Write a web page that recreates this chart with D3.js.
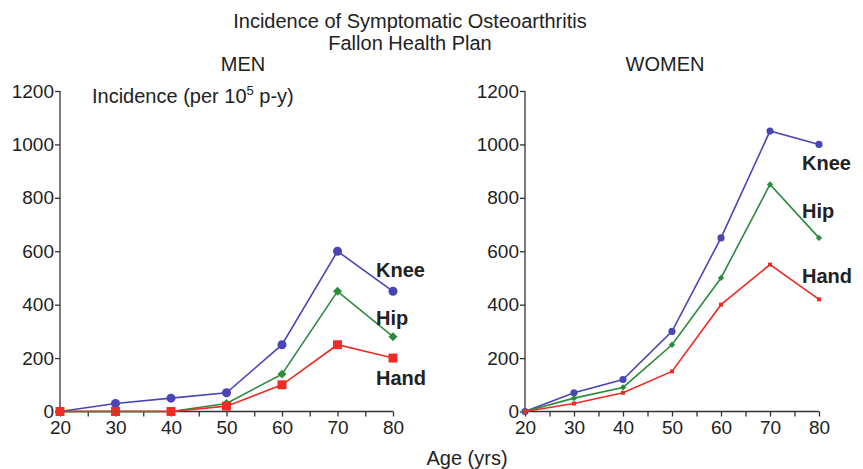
<!DOCTYPE html>
<html>
<head>
<meta charset="utf-8">
<script src="https://cdn.jsdelivr.net/npm/d3@7"></script>
<style>
body { margin: 0; background: #fff; }
text { font-family: Arial, "Liberation Sans", sans-serif; fill: #222; }
</style>
</head>
<body>
<svg width="863" height="469"></svg>
<script>
var svg = d3.select('svg');

// data
var ages = [20, 30, 40, 50, 60, 70, 80];
var yTicks = [0, 200, 400, 600, 800, 1000, 1200];

var menKnee = [0, 30, 50, 70, 250, 600, 450];
var menHip = [0, 0, 0, 30, 140, 450, 280];
var menHand = [0, 0, 0, 20, 100, 250, 200];

var womenKnee = [0, 70, 120, 300, 650, 1050, 1000];
var womenHip = [0, 50, 90, 250, 500, 850, 650];
var womenHand = [0, 30, 70, 150, 400, 550, 420];

var blue = '#4a45b5', green = '#2b8c3c', red = '#ee2b25';

// titles
svg.append('text').attr('x', 410).attr('y', 28).attr('text-anchor', 'middle')
    .style('font-size', '20px').text('Incidence of Symptomatic Osteoarthritis');
svg.append('text').attr('x', 410).attr('y', 50).attr('text-anchor', 'middle')
    .style('font-size', '20px').text('Fallon Health Plan');
svg.append('text').attr('x', 467).attr('y', 465).attr('text-anchor', 'middle')
    .style('font-size', '20px').text('Age (yrs)');

function panel(left, right, title, titleX, series, labelY) {
    var x = d3.scaleLinear().domain([20, 80]).range([left, right]);
    var y = d3.scaleLinear().domain([0, 1200]).range([411.5, 91]);

    var g = svg.append('g');

    svg.append('text').attr('x', titleX).attr('y', 71).attr('text-anchor', 'middle')
        .style('font-size', '20px').text(title);

    // y axis
    var ya = g.append('g').attr('transform', 'translate(' + left + ',0)')
        .call(d3.axisLeft(y).tickValues(yTicks).tickSize(5).tickPadding(1).tickFormat(d3.format('d')));
    ya.selectAll('text').style('font-size', '19px').attr('fill', '#222')
        .style('font-family', 'Arial, "Liberation Sans", sans-serif');
    ya.selectAll('line, path').attr('stroke', '#333').attr('stroke-width', 1.3);
    ya.select('.domain').attr('d', 'M0,' + y(1200) + 'V' + y(0));

    // x axis with minor ticks
    var xa = g.append('g').attr('transform', 'translate(0,' + y(0) + ')')
        .call(d3.axisBottom(x).tickValues(d3.range(20, 81, 5)).tickSize(5).tickPadding(4)
            .tickFormat(function (d) { return d % 10 === 0 ? d : ''; }));
    xa.selectAll('text').style('font-size', '19px').attr('fill', '#222')
        .style('font-family', 'Arial, "Liberation Sans", sans-serif');
    xa.selectAll('line, path').attr('stroke', '#333').attr('stroke-width', 1.3);
    xa.select('.domain').attr('d', 'M' + x(20) + ',0H' + x(80));

    var line = d3.line().x(function (d, i) { return x(ages[i]); }).y(function (d) { return y(d); });

    series.forEach(function (s) {
        g.append('path').datum(s.values).attr('d', line)
            .attr('fill', 'none').attr('stroke', s.color).attr('stroke-width', 1.6);
        g.selectAll(null).data(s.values).enter().append('path')
            .attr('transform', function (d, i) {
                return 'translate(' + x(ages[i]) + ',' + y(d) + ')' + (s.rotate ? ' rotate(45)' : '');
            })
            .attr('d', d3.symbol().type(s.shape).size(s.size))
            .attr('fill', s.color);
    });

    series.forEach(function (s, i) {
        svg.append('text').attr('x', right - 17).attr('y', labelY[i])
            .style('font-size', '20px').style('font-weight', 'bold').text(s.name);
    });
}

panel(60, 393, 'MEN', 243, [
    { name: 'Knee', values: menKnee, color: blue, shape: d3.symbolCircle, size: 64 },
    { name: 'Hip', values: menHip, color: green, shape: d3.symbolSquare, size: 40, rotate: true },
    { name: 'Hand', values: menHand, color: red, shape: d3.symbolSquare, size: 80 }
], [277, 325, 385]);

panel(525, 819, 'WOMEN', 665, [
    { name: 'Knee', values: womenKnee, color: blue, shape: d3.symbolCircle, size: 40 },
    { name: 'Hip', values: womenHip, color: green, shape: d3.symbolSquare, size: 20, rotate: true },
    { name: 'Hand', values: womenHand, color: red, shape: d3.symbolSquare, size: 16 }
], [170, 218, 283]);

// y axis title with superscript
var t = svg.append('text').attr('x', 92).attr('y', 103).style('font-size', '20px');
t.append('tspan').text('Incidence (per 10');
t.append('tspan').attr('dy', -8).style('font-size', '13px').text('5');
t.append('tspan').attr('dy', 8).text(' p-y)');
</script>
</body>
</html>
